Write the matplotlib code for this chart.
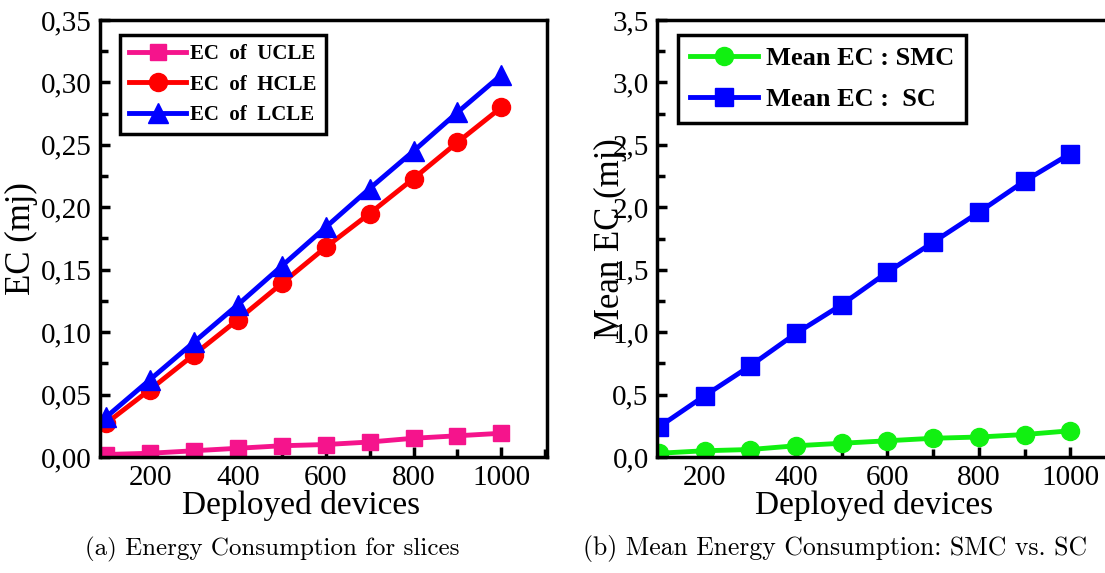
import matplotlib.pyplot as plt
from matplotlib.ticker import FuncFormatter, MultipleLocator

# data
devices = [100, 200, 300, 400, 500, 600, 700, 800, 900, 1000]
ec_ucle = [0.002, 0.003, 0.005, 0.007, 0.009, 0.010, 0.012, 0.015, 0.017, 0.019]
ec_hcle = [0.027, 0.054, 0.082, 0.110, 0.139, 0.168, 0.195, 0.223, 0.252, 0.280]
ec_lcle = [0.032, 0.062, 0.092, 0.122, 0.153, 0.184, 0.215, 0.245, 0.276, 0.306]
mean_smc = [0.03, 0.05, 0.06, 0.09, 0.11, 0.13, 0.15, 0.16, 0.18, 0.21]
mean_sc = [0.24, 0.49, 0.73, 0.99, 1.22, 1.48, 1.72, 1.96, 2.21, 2.43]

plt.rcParams['font.family'] = ['Liberation Serif', 'DejaVu Serif']

W, H = 1105, 573
fig = plt.figure(figsize=(W / 100, H / 100), dpi=100)

def px_axes(x0, y0, x1, y1):
    return fig.add_axes([x0 / W, 1 - y1 / H, (x1 - x0) / W, (y1 - y0) / H])

def komma(ndig):
    return FuncFormatter(lambda v, p: f"{v:.{ndig}f}".replace('.', ','))

def tyyli(ax):
    for s in ax.spines.values():
        s.set_linewidth(2.5)
    ax.tick_params(which='both', direction='in', width=2.5, labelsize=21,
                   top=False, right=False, pad=6)
    ax.tick_params(which='major', length=7)
    ax.tick_params(which='minor', length=6)
    ax.xaxis.set_major_locator(MultipleLocator(200))
    ax.xaxis.set_minor_locator(MultipleLocator(100))
    ax.set_xlabel("Deployed devices", fontsize=24, labelpad=-2)

# (a)
ax1 = px_axes(100, 20, 547, 457)
tyyli(ax1)
ax1.plot(devices, ec_ucle, '-s', color='#f5148c', lw=3.5, ms=11, label='EC  of  UCLE')
ax1.plot(devices, ec_hcle, '-o', color='#ff0000', lw=3.5, ms=13, label='EC  of  HCLE')
ax1.plot(devices, ec_lcle, '-^', color='#0000ff', lw=3.5, ms=14, label='EC  of  LCLE')
ax1.set_xlim(86, 1104)
ax1.set_ylim(0, 0.35)
ax1.yaxis.set_major_locator(MultipleLocator(0.05))
ax1.yaxis.set_minor_locator(MultipleLocator(0.025))
ax1.yaxis.set_major_formatter(komma(2))
ax1.set_ylabel("EC (mj)", fontsize=25)
ax1.yaxis.set_label_coords(-0.139, 0.5)
ax1.xaxis.set_label_coords(0.45, -0.075)
leg1 = ax1.legend(loc='upper left', bbox_to_anchor=(0.045, 0.966), borderaxespad=0,
                  fancybox=False, edgecolor='black', framealpha=1, handlelength=2.7,
                  borderpad=0.45, labelspacing=0.5, handletextpad=0.2,
                  prop={'weight': 'bold', 'size': 15})
leg1.get_frame().set_linewidth(2.5)

# (b)
ax2 = px_axes(657, 20, 1116, 457)
tyyli(ax2)
ax2.plot(devices, mean_smc, '-o', color='#11f011', lw=3.5, ms=13, label='Mean EC : SMC')
ax2.plot(devices, mean_sc, '-s', color='#0000ff', lw=3.5, ms=13, label='Mean EC :  SC')
ax2.set_xlim(96, 1100)
ax2.set_ylim(0, 3.5)
ax2.yaxis.set_major_locator(MultipleLocator(0.5))
ax2.yaxis.set_minor_locator(MultipleLocator(0.25))
ax2.yaxis.set_major_formatter(komma(1))
ax2.set_ylabel("Mean EC (mj)", fontsize=25)
ax2.yaxis.set_label_coords(-0.065, 0.5)
ax2.xaxis.set_label_coords(0.473, -0.075)
leg2 = ax2.legend(loc='upper left', bbox_to_anchor=(0.045, 0.966), borderaxespad=0,
                  fancybox=False, edgecolor='black', framealpha=1, handlelength=2.6,
                  borderpad=0.45, labelspacing=0.65, handletextpad=0.3,
                  prop={'weight': 'bold', 'size': 19})
leg2.get_frame().set_linewidth(2.5)

fig.text(85 / W, 1 - 549 / H, "(a) Energy Consumption for slices",
         family='cmr10', fontsize=18, ha='left', va='center')
fig.text(583 / W, 1 - 549 / H, "(b) Mean Energy Consumption: SMC vs. SC",
         family='cmr10', fontsize=18.5, ha='left', va='center')

fig.savefig('out.png', dpi=100)
